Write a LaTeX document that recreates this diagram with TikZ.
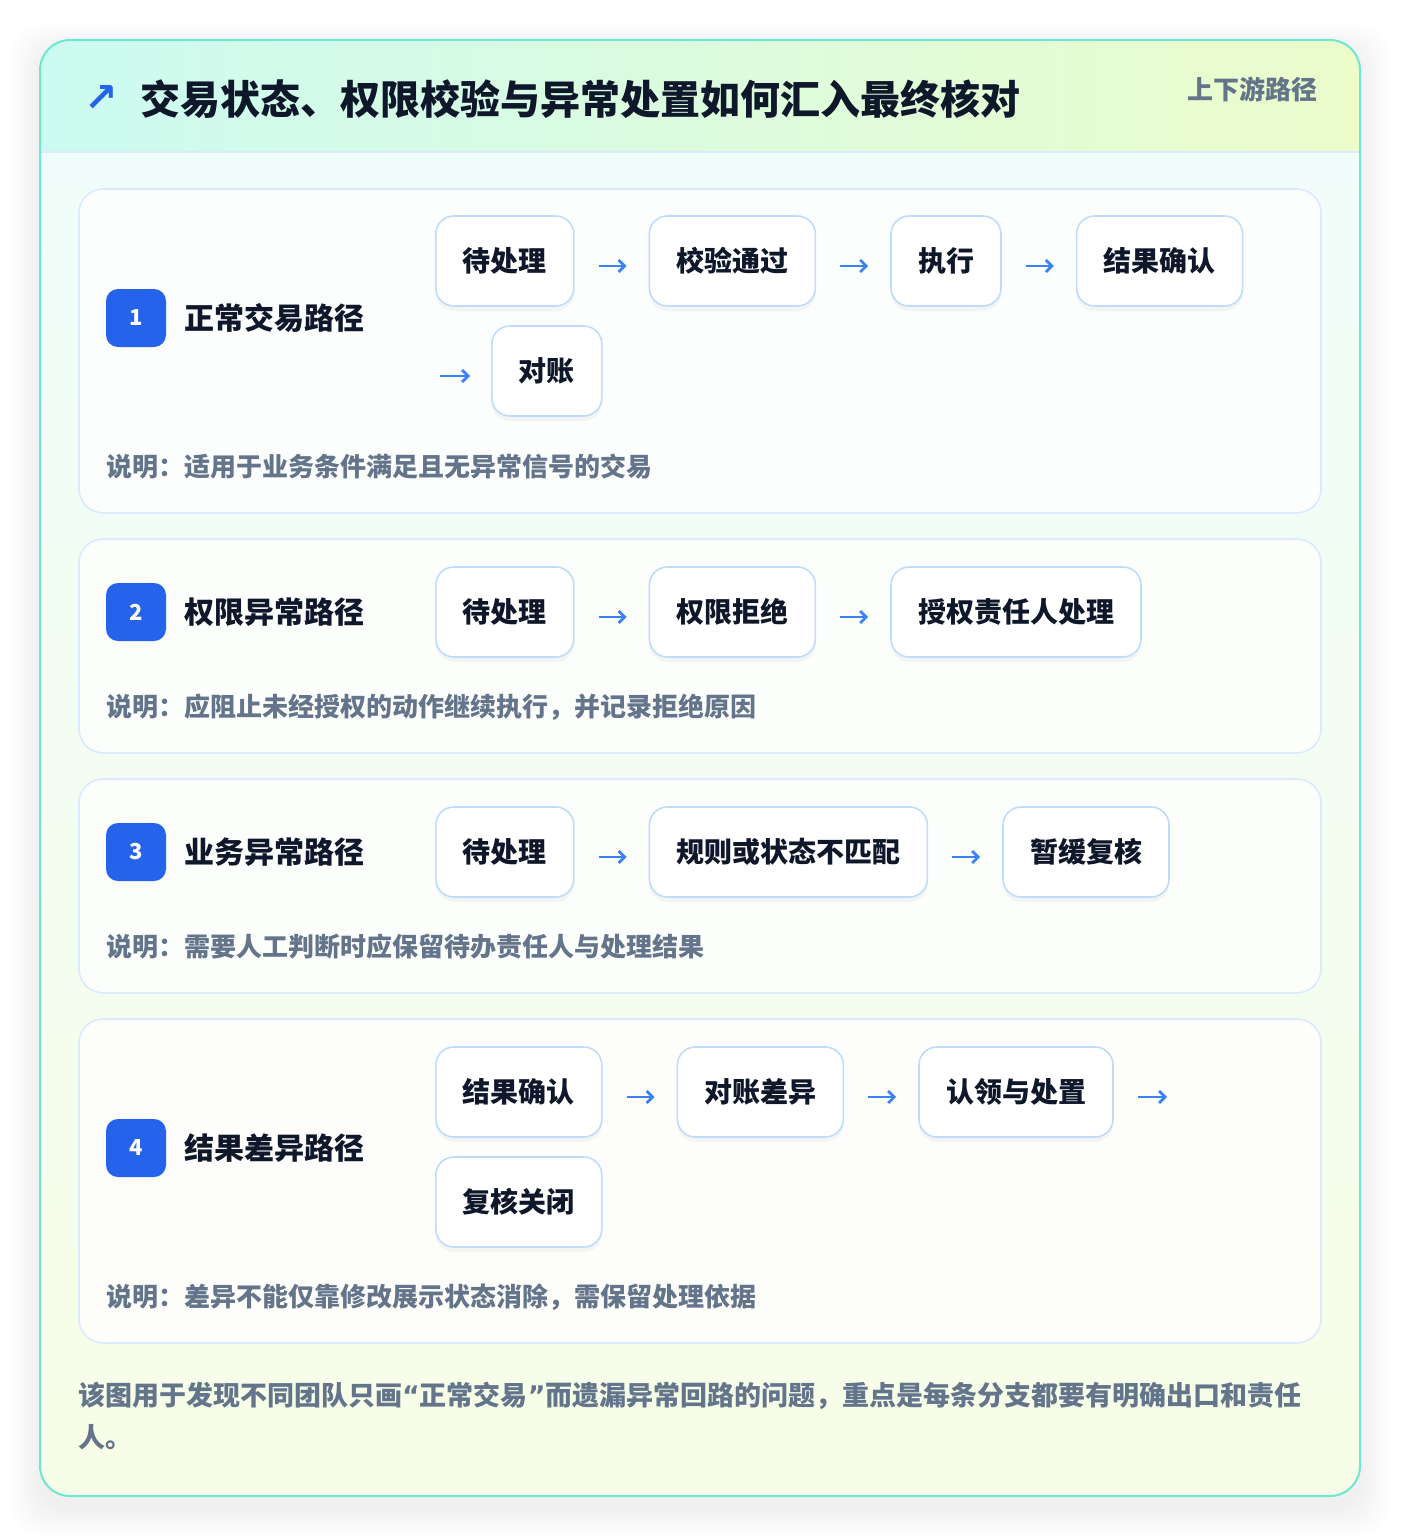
\documentclass[tikz,border=0pt]{standalone}
\usepackage{fontspec}
\setmainfont{Noto Sans CJK SC}
\newfontfamily\symfont{DejaVu Sans}
\usetikzlibrary{positioning,arrows.meta,shadows}

\definecolor{ink}{HTML}{0F172A}
\definecolor{muted}{HTML}{64748B}
\definecolor{badgeblue}{HTML}{2563EB}
\definecolor{arrowblue}{HTML}{3B82F6}
\definecolor{stepline}{HTML}{BFDBFE}
\definecolor{cardline}{HTML}{DBEAFE}
\definecolor{frameline}{HTML}{6EE7D2}
\definecolor{headleft}{HTML}{CCFBF1}
\definecolor{headright}{HTML}{ECFCCB}
\definecolor{bodytop}{HTML}{F0FDFA}
\definecolor{bodybottom}{HTML}{F7FEE7}

\tikzset{
  stepbox/.style={draw=stepline, line width=1.6pt, fill=white, rounded corners=18pt,
    minimum height=90pt, inner xsep=27pt, text=ink,
    font=\fontsize{28}{32}\selectfont\bfseries,
    drop shadow={opacity=0.07, shadow xshift=0pt, shadow yshift=-5pt}},
  badge/.style={fill=badgeblue, rounded corners=12pt, minimum width=60pt,
    minimum height=58pt, text=white, font=\fontsize{22}{24}\selectfont\bfseries},
  pathlabel/.style={anchor=west, inner sep=0pt, text=ink,
    font=\fontsize{30}{34}\selectfont\bfseries},
  note/.style={anchor=west, inner sep=0pt, text=muted,
    font=\fontsize{26}{30}\selectfont\bfseries},
  section/.style={draw=cardline, line width=1.6pt, fill=white, fill opacity=0.8,
    rounded corners=24pt},
  flow/.style={draw=arrowblue, line width=2.8pt,
    -{Straight Barb[length=6pt,width=12pt]}},
  gap/.style={shorten <=24pt, shorten >=22pt},
}

\begin{document}
\begin{tikzpicture}[x=1pt,y=-1pt]
  \useasboundingbox (0,0) rectangle (1400,1536);
  \fill[white] (0,0) rectangle (1400,1536);

  % soft shadow under the frame
  \foreach \s in {2,4,...,30}
    \fill[black, opacity=0.005, rounded corners=32pt]
      (40-\s,52-\s) rectangle (1360+\s,1508+\s);

  % frame, header band and body
  \begin{scope}
    \clip[rounded corners=30pt] (40,40) rectangle (1360,1496);
    \shade[top color=bodytop, bottom color=bodybottom] (40,152) rectangle (1360,1496);
    \shade[left color=headleft, right color=headright] (40,40) rectangle (1360,152);
  \end{scope}
  \draw[cardline, line width=1.5pt] (40,152) -- (1360,152);
  \draw[frameline, line width=2pt, rounded corners=30pt] (40,40) rectangle (1360,1496);

  % header
  \node[anchor=west, inner sep=0pt, text=badgeblue,
        font=\symfont\fontsize{40}{40}\selectfont\bfseries] (icon) at (84,99) {↗};
  \node[anchor=west, inner sep=0pt, text=ink,
        font=\fontsize{40}{44}\selectfont\bfseries] (title) at (140,99)
        {交易状态、权限校验与异常处置如何汇入最终核对};
  \node[anchor=east, inner sep=0pt, text=muted,
        font=\fontsize{26}{30}\selectfont\bfseries] (scope) at (1318,89) {上下游路径};

  % section cards
  \draw[section] (79,189) rectangle (1321,513);
  \draw[section] (79,539) rectangle (1321,753);
  \draw[section] (79,779) rectangle (1321,993);
  \draw[section] (79,1019) rectangle (1321,1343);

  % 1: normal path
  \node[badge] (b1) at (136,318) {1};
  \node[pathlabel] (l1) at (184,318) {正常交易路径};
  \node[stepbox, anchor=west] (p1) at (435,261) {待处理};
  \node[stepbox, right=74pt of p1] (v1) {校验通过};
  \node[stepbox, right=74pt of v1] (x1) {执行};
  \node[stepbox, right=74pt of x1] (c1) {结果确认};
  \node[stepbox, anchor=west] (r1) at (491,371) {对账};
  \draw[flow, gap] ([yshift=-5pt]p1.east) -- ([yshift=-5pt]v1.west);
  \draw[flow, gap] ([yshift=-5pt]v1.east) -- ([yshift=-5pt]x1.west);
  \draw[flow, gap] ([yshift=-5pt]x1.east) -- ([yshift=-5pt]c1.west);
  \coordinate (w1) at (440,376);
  \draw[flow] (w1) -- ([xshift=-21pt,yshift=-5pt]r1.west);
  \node[note] (n1) at (106,467) {说明：适用于业务条件满足且无异常信号的交易};

  % 2: permission path
  \node[badge] (b2) at (136,612) {2};
  \node[pathlabel] (l2) at (184,612) {权限异常路径};
  \node[stepbox, anchor=west] (p2) at (435,612) {待处理};
  \node[stepbox, right=74pt of p2] (d2) {权限拒绝};
  \node[stepbox, right=74pt of d2] (a2) {授权责任人处理};
  \draw[flow, gap] ([yshift=-5pt]p2.east) -- ([yshift=-5pt]d2.west);
  \draw[flow, gap] ([yshift=-5pt]d2.east) -- ([yshift=-5pt]a2.west);
  \node[note] (n2) at (106,707) {说明：应阻止未经授权的动作继续执行，并记录拒绝原因};

  % 3: business path
  \node[badge] (b3) at (136,852) {3};
  \node[pathlabel] (l3) at (184,852) {业务异常路径};
  \node[stepbox, anchor=west] (p3) at (435,852) {待处理};
  \node[stepbox, right=74pt of p3] (m3) {规则或状态不匹配};
  \node[stepbox, right=74pt of m3] (h3) {暂缓复核};
  \draw[flow, gap] ([yshift=-5pt]p3.east) -- ([yshift=-5pt]m3.west);
  \draw[flow, gap] ([yshift=-5pt]m3.east) -- ([yshift=-5pt]h3.west);
  \node[note] (n3) at (106,947) {说明：需要人工判断时应保留待办责任人与处理结果};

  % 4: result path
  \node[badge] (b4) at (136,1148) {4};
  \node[pathlabel] (l4) at (184,1148) {结果差异路径};
  \node[stepbox, anchor=west] (c4) at (435,1092) {结果确认};
  \node[stepbox, right=74pt of c4] (r4) {对账差异};
  \node[stepbox, right=74pt of r4] (d4) {认领与处置};
  \node[stepbox, anchor=west] (f4) at (435,1202) {复核关闭};
  \draw[flow, gap] ([yshift=-5pt]c4.east) -- ([yshift=-5pt]r4.west);
  \draw[flow, gap] ([yshift=-5pt]r4.east) -- ([yshift=-5pt]d4.west);
  \coordinate (e4) at (1167,1097);
  \draw[flow] ([xshift=24pt,yshift=-5pt]d4.east) -- (e4);
  \node[note] (n4) at (106,1297) {说明：差异不能仅靠修改展示状态消除，需保留处理依据};

  % footer
  \node[anchor=north west, inner sep=0pt, align=left, text=muted,
        font=\fontsize{27}{42}\selectfont\bfseries] (foot) at (78,1382)
        {该图用于发现不同团队只画{\symfont “}正常交易{\symfont ”}而遗漏异常回路的问题，重点是每条分支都要有明确出口和责任\\人。};
\end{tikzpicture}
\end{document}
